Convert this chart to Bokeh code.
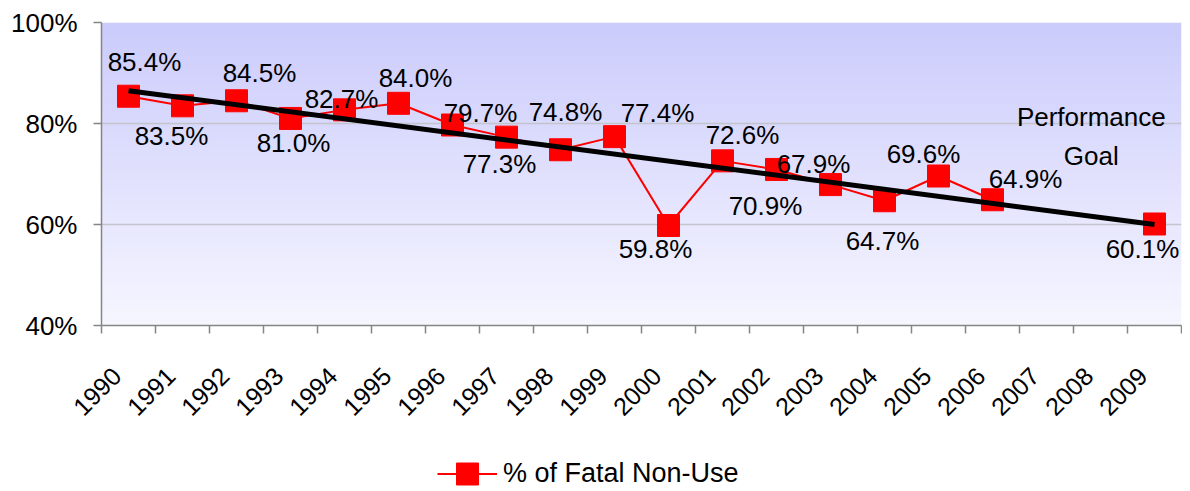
import numpy as np
from math import pi
from bokeh.plotting import figure
from bokeh.layouts import column
from bokeh.models import (ColumnDataSource, FixedTicker, PrintfTickFormatter,
                          Legend, LegendItem, Label, Range1d)
from bokeh.core.properties import value
from bokeh.embed import file_html
from bokeh.resources import INLINE

# ---------------- data ----------------
years = ["1990", "1991", "1992", "1993", "1994", "1995", "1996", "1997", "1998", "1999",
         "2000", "2001", "2002", "2003", "2004", "2005", "2006", "2007", "2008", "2009"]
fatal_nonuse = [85.4, 83.5, 84.5, 81.0, 82.7, 84.0, 79.7, 77.3, 74.8, 77.4,
                59.8, 72.6, 70.9, 67.9, 64.7, 69.6, 64.9, None, None, 60.1]
goal_years = ["1990", "2009"]
goal_values = [86.5, 60.0]
y_ticks = [40, 60, 80, 100]
series_name = "% of Fatal Non-Use"

# label offsets (screen px) for each plotted value label, in order of the non-missing points
label_dx = [16, -11, 23, 3, -3, 17, 28, -7, 5, 43, -13, 20, -11, -17, -2, -15, 33, -12]
label_dy = [-34, 30, -28, 25, -11, -25, -12, 27, -38, -24, 23, -26, 37, -21, 40, -22, -21, 25]

FONT = "Liberation Sans"
RED = "#FF0000"

idx = {y: i for i, y in enumerate(years)}
xs = [idx[y] + 0.5 for y in years]
ys_line = [np.nan if v is None else v for v in fatal_nonuse]
pts_x = [x for x, v in zip(xs, fatal_nonuse) if v is not None]
pts_y = [v for v in fatal_nonuse if v is not None]
pts_txt = ["%.1f%%" % v for v in pts_y]

src = ColumnDataSource(dict(x=pts_x, y=pts_y, t=pts_txt, dx=label_dx, dy=label_dy))

p = figure(width=1182, height=426,
           x_range=Range1d(0, len(years)), y_range=Range1d(40, 100),
           output_backend="svg", toolbar_location=None,
           min_border_left=101, min_border_right=1, min_border_top=22, min_border_bottom=0)
p.outline_line_color = None
p.background_fill_color = "white"
p.border_fill_color = "white"

# gradient plot-area background
n = 120
top = np.array([203, 203, 252], dtype=float)
bot = np.array([246, 246, 255], dtype=float)
t = np.linspace(0, 1, n)[:, None]
rgb = bot + (top - bot) * t
img = np.empty((n, 1), dtype=np.uint32)
view = img.view(dtype=np.uint8).reshape((n, 1, 4))
view[:, :, 0] = rgb[:, 0:1].round()
view[:, :, 1] = rgb[:, 1:2].round()
view[:, :, 2] = rgb[:, 2:3].round()
view[:, :, 3] = 255
p.image_rgba(image=[img], x=0, y=40, dw=len(years), dh=60, level="image")

# grid
p.xgrid.visible = False
p.ygrid.ticker = FixedTicker(ticks=y_ticks)
p.ygrid.grid_line_color = "#C4C4CC"
p.ygrid.grid_line_width = 1.5

# y axis
p.yaxis.ticker = FixedTicker(ticks=y_ticks)
p.yaxis.formatter = PrintfTickFormatter(format="%d%%")
p.yaxis.axis_line_color = "#858585"
p.yaxis.axis_line_width = 1.5
p.yaxis.major_tick_line_color = "#858585"
p.yaxis.major_tick_line_width = 1.5
p.yaxis.major_tick_out = 8
p.yaxis.major_tick_in = 0
p.yaxis.minor_tick_line_color = None
p.yaxis.major_label_standoff = 16
p.yaxis.major_label_text_font = FONT
p.yaxis.major_label_text_font_size = "26px"
p.yaxis.major_label_text_color = "black"

# x axis: labels near category centres, ticks at category boundaries
lab_pos = [x - 0.22 for x in xs]
p.xaxis.ticker = FixedTicker(ticks=lab_pos, minor_ticks=list(range(len(years) + 1)))
p.xaxis.major_label_overrides = {x: y for x, y in zip(lab_pos, years)}
p.xaxis.major_label_orientation = pi / 4
p.xaxis.axis_line_color = "#858585"
p.xaxis.axis_line_width = 1.5
p.xaxis.major_tick_line_color = None
p.xaxis.major_tick_out = 0
p.xaxis.major_tick_in = 0
p.xaxis.minor_tick_line_color = "#858585"
p.xaxis.minor_tick_line_width = 1.5
p.xaxis.minor_tick_out = 8
p.xaxis.minor_tick_in = 0
p.xaxis.major_label_standoff = 38
p.xaxis.major_label_text_font = FONT
p.xaxis.major_label_text_font_size = "25px"
p.xaxis.major_label_text_color = "black"

# series
line_r = p.line(xs, ys_line, line_color=RED, line_width=2)
sq_r = p.scatter("x", "y", source=src, marker="square", size=22,
                 fill_color=RED, line_color=RED)
p.line([idx[y] + 0.5 for y in goal_years], goal_values, line_color="black", line_width=5)
p.text("x", "y", text="t", source=src, x_offset="dx", y_offset="dy",
       text_align="center", text_baseline="middle",
       text_font=value(FONT), text_font_size="26px", text_color="black")

p.add_layout(Label(x=18.33, y=81.2, text="Performance", text_align="center",
                   text_baseline="middle", text_font=FONT, text_font_size="26px",
                   text_color="black"))
p.add_layout(Label(x=18.33, y=73.6, text="Goal", text_align="center",
                   text_baseline="middle", text_font=FONT, text_font_size="26px",
                   text_color="black"))

# ---------------- legend strip below the chart ----------------
LH = 65
p2 = figure(width=1182, height=LH, x_range=Range1d(0, 1182), y_range=Range1d(0, LH),
            output_backend="svg", toolbar_location=None,
            min_border_left=0, min_border_right=0, min_border_top=0, min_border_bottom=0)
p2.axis.visible = False
p2.grid.visible = False
p2.outline_line_color = None
p2.background_fill_color = "white"
p2.border_fill_color = "white"
# legend proxies: a single point kept outside the visible strip
proxy = ColumnDataSource(dict(x=[-50.0], y=[-50.0]))
lg_line = p2.line("x", "y", source=proxy, line_color=RED, line_width=2)
lg_sq = p2.scatter("x", "y", source=proxy, marker="square", size=22,
                   fill_color=RED, line_color=RED)
legend = Legend(items=[LegendItem(label=series_name, renderers=[lg_line, lg_sq])],
                location=(336, -10), orientation="horizontal",
                glyph_width=60, glyph_height=55, label_standoff=6,
                padding=0, margin=0, spacing=0,
                background_fill_alpha=0, border_line_color=None,
                label_text_font=FONT, label_text_font_size="27px",
                label_text_color="black")
p2.add_layout(legend, "center")

layout = column(p, p2, spacing=0)
open("out.html", "w").write(file_html(layout, INLINE))
